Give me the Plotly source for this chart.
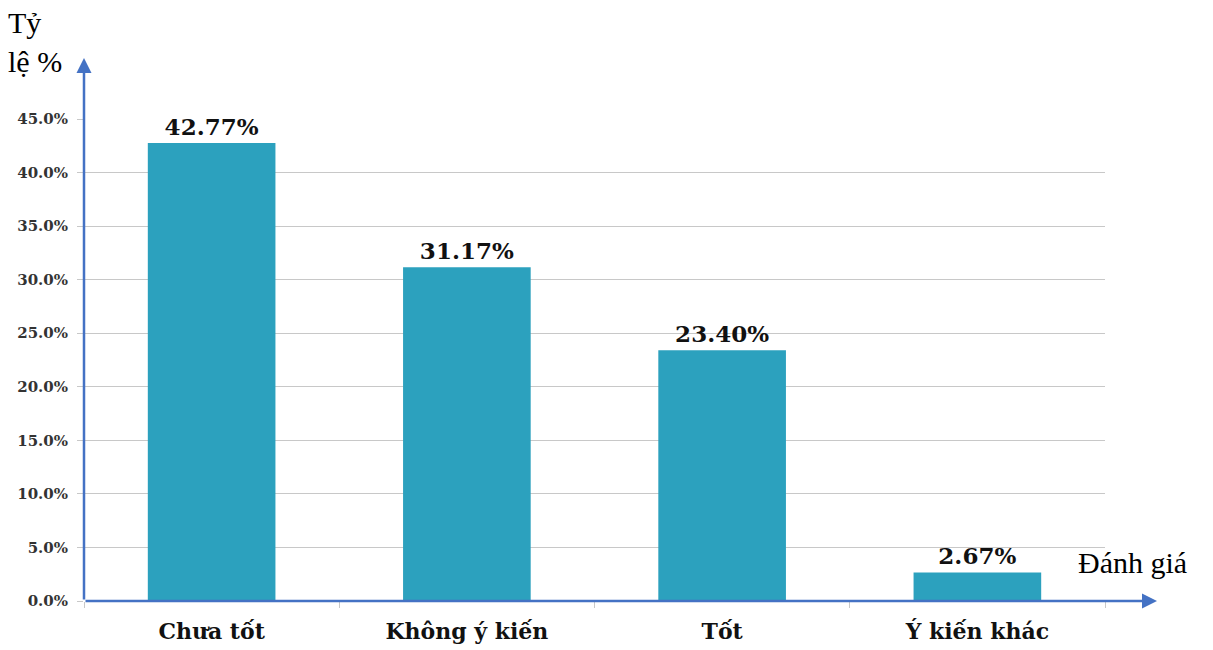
import plotly.graph_objects as go

# Survey results
categories = ["Chưa tốt", "Không ý kiến", "Tốt", "Ý kiến khác"]
values = [42.77, 31.17, 23.40, 2.67]
y_ticks = [0, 5, 10, 15, 20, 25, 30, 35, 40, 45]
y_tick_labels = [f"{v:.1f}%" for v in y_ticks]

SERIF = "Liberation Serif, Times New Roman, serif"
WIDE_SERIF = "DejaVu Serif, Liberation Serif, serif"
AXIS_BLUE = "#4472C4"
BAR_COLOR = "#2CA1BE"
GRID = "#C8C8C8"

fig = go.Figure(
    go.Bar(
        x=categories,
        y=values,
        width=0.5,
        marker=dict(color=BAR_COLOR, line=dict(width=0)),
        text=[f"{v:.2f}%" for v in values],
        textposition="outside",
        cliponaxis=False,
        textfont=dict(family=WIDE_SERIF, size=23, color="#111111", weight="bold"),
    )
)

fig.update_layout(
    width=1213,
    height=650,
    margin=dict(l=84, r=108, t=119, b=49, autoexpand=False),
    plot_bgcolor="white",
    paper_bgcolor="white",
    showlegend=False,
    xaxis=dict(
        range=[-0.5, 3.5],
        automargin=False,
        showgrid=False,
        showline=False,
        zeroline=False,
        ticks="outside",
        tickson="boundaries",
        ticklen=6,
        tickcolor=GRID,
        tickfont=dict(family=WIDE_SERIF, size=22, color="#111111", weight="bold"),
        ticklabelstandoff=15,
    ),
    yaxis=dict(
        range=[0, 45],
        automargin=False,
        tickvals=y_ticks,
        ticktext=y_tick_labels,
        showgrid=True,
        gridcolor=GRID,
        gridwidth=1,
        zeroline=False,
        showline=False,
        ticks="outside",
        ticklen=6,
        tickcolor=GRID,
        tickfont=dict(family=WIDE_SERIF, size=15, color="#333333", weight="bold"),
        ticklabelstandoff=6,
    ),
)

# Axis arrows
fig.add_annotation(
    x=0, y=(601 - 58) / 482, xref="paper", yref="paper",
    ax=0, ay=543, axref="pixel", ayref="pixel",
    showarrow=True, arrowhead=2, arrowsize=1.2, arrowwidth=2.5,
    arrowcolor=AXIS_BLUE, text="",
)
fig.add_annotation(
    x=(1157 - 84) / 1021, y=0, xref="paper", yref="paper",
    ax=-1073, ay=0, axref="pixel", ayref="pixel",
    showarrow=True, arrowhead=2, arrowsize=1.2, arrowwidth=2.5,
    arrowcolor=AXIS_BLUE, text="",
)

# Axis titles
title_font = dict(family=SERIF, size=30, color="#000000")
fig.add_annotation(
    x=(6 - 84) / 1021, y=(601 - 22) / 482, xref="paper", yref="paper",
    text="Tỷ", showarrow=False, xanchor="left", yanchor="middle",
    font=title_font,
)
fig.add_annotation(
    x=(6 - 84) / 1021, y=(601 - 62) / 482, xref="paper", yref="paper",
    text="lệ %", showarrow=False, xanchor="left", yanchor="middle",
    font=title_font,
)
fig.add_annotation(
    x=(1076 - 84) / 1021, y=(601 - 562) / 482, xref="paper", yref="paper",
    text="Đánh giá", showarrow=False, xanchor="left", yanchor="middle",
    font=title_font,
)

fig.write_html("out.html")
